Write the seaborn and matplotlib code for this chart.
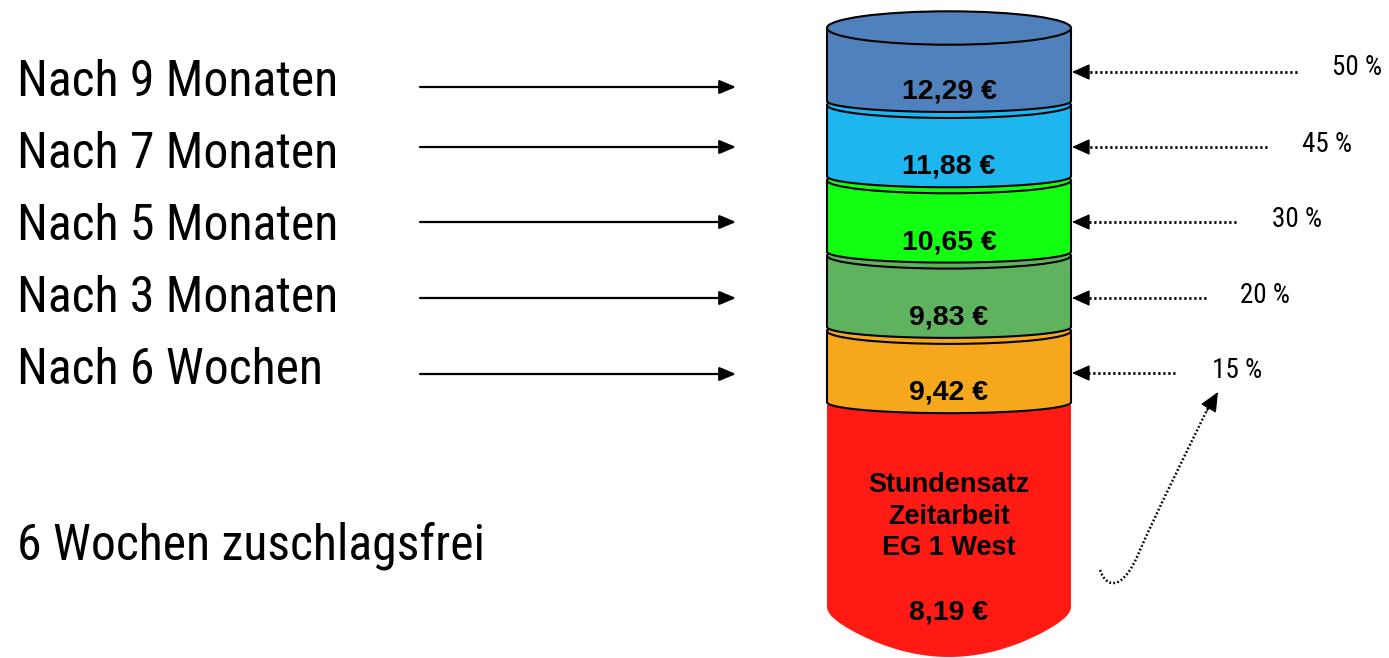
import numpy as np
import matplotlib
matplotlib.use("Agg")
import matplotlib.pyplot as plt
import seaborn as sns
from matplotlib.patches import Ellipse, Polygon, PathPatch
from matplotlib.path import Path
from matplotlib import font_manager as fm

# ---------------- data ----------------
stages = ["Nach 9 Monaten", "Nach 7 Monaten", "Nach 5 Monaten",
          "Nach 3 Monaten", "Nach 6 Wochen"]
rates = [12.29, 11.88, 10.65, 9.83, 9.42]
surcharge_pct = [50, 45, 30, 20, 15]
base_rate = 8.19
base_lines = ["Stundensatz", "Zeitarbeit", "EG 1 West"]
free_label = "6 Wochen zuschlagsfrei"

seg_colors = ["#4F81BD", "#1EB6EF", "#12FF12", "#5FB35F", "#F5A81C"]
base_color = "#FF1A14"


def euro(v):
    return f"{v:.2f}".replace(".", ",") + " €"


sns.set_theme(style="white")
plt.rcParams["font.family"] = ["Liberation Sans", "DejaVu Sans"]

# pick a condensed family if one is installed
names = {f.name for f in fm.fontManager.ttflist}
narrow_candidates = ["Liberation Sans Narrow", "Roboto Condensed",
                     "DejaVu Sans Condensed", "Open Sans Condensed"]
NARROW = [c for c in narrow_candidates if c in names]
HAS_NARROW = len(NARROW) > 0
NARROW = NARROW + ["Liberation Sans", "DejaVu Sans"]
left_fs = 35.8 if HAS_NARROW else 31.5
pct_fs = 19.5 if HAS_NARROW else 16

W, H = 1389, 658
fig = plt.figure(figsize=(W / 100, H / 100), dpi=100)
ax = fig.add_axes([0, 0, 1, 1])
ax.set_xlim(0, W)
ax.set_ylim(H, 0)
ax.axis("off")

# ---------------- cylinder (own axes, x in bar units, y in pixels) ----------------
cx0, cx1 = 827, 1071
pad = 12
cax = fig.add_axes([(cx0 - pad) / W, 0, (cx1 - cx0 + 2 * pad) / W, 1])
half = 0.5 + pad / (cx1 - cx0)

n = len(rates)
junction = [101 + 75.3 * i for i in range(n)]
tops = [28] + [j + 4 for j in junction[:-1]]
bots = junction
base_top = junction[-1] + 4
base_bot = 607
base_depth = 50
arc_depth = 11
EDGE = 1.5

# base (red) segment
sns.barplot(x=["Zylinder"], y=[base_bot - base_top + 1], bottom=base_top - 1,
            color=base_color, saturation=1, width=1.0, linewidth=0,
            errorbar=None, ax=cax, zorder=2)
u = np.linspace(-1, 1, 400)
yb = base_bot + base_depth * np.sqrt(1 - u ** 2) * (1 - 0.35 * u ** 2)
pts = np.column_stack([0.5 * u, yb])
pts = np.vstack([[[-0.5, base_bot - 2]], pts, [[0.5, base_bot - 2]]])
cax.add_patch(Polygon(pts, closed=True, fc=base_color, ec="none", zorder=2.1, clip_on=False))

t = np.linspace(0, np.pi, 200)
for i in range(n - 1, -1, -1):
    k = n - i
    z = 2 + k
    col = seg_colors[i]
    sns.barplot(x=["Zylinder"], y=[bots[i] - tops[i]], bottom=tops[i],
                color=col, saturation=1, width=1.0, linewidth=0,
                errorbar=None, ax=cax, zorder=z)
    xs = 0.5 * np.cos(t)
    ys = bots[i] + arc_depth * np.sin(t)
    hp = np.column_stack([xs, ys])
    hp = np.vstack([hp, [[-0.5, bots[i] - 1], [0.5, bots[i] - 1]]])
    cax.add_patch(Polygon(hp, closed=True, fc=col, ec="none", zorder=z + 0.1, clip_on=False))
    cax.plot(xs, ys, color="black", lw=EDGE, zorder=z + 0.2, clip_on=False,
             solid_capstyle="round")
    for sx in (-0.5, 0.5):
        cax.plot([sx, sx], [tops[i], bots[i]], color="black", lw=EDGE,
                 zorder=z + 0.2, clip_on=False)
    bt = 16.7 if i == 0 else 13
    cax.add_patch(Ellipse((0, tops[i]), 1.0, 2 * bt, fc=col, ec="black",
                          lw=EDGE, zorder=z + 0.3, clip_on=False))
    cax.text(0, bots[i] - 2.5, euro(rates[i]), ha="center", va="baseline",
             fontsize=20.5, fontweight="bold", color="black", zorder=30)

for line, bl in zip(base_lines, [492, 523.5, 555]):
    cax.text(0, bl, line, ha="center", va="baseline", fontsize=19.5,
             fontweight="bold", color="black", zorder=30)
cax.text(0, 619, euro(base_rate), ha="center", va="baseline", fontsize=20.5,
         fontweight="bold", color="black", zorder=30)

cax.set_xlim(-half, half)
cax.set_ylim(H, 0)
cax.axis("off")

# ---------------- left labels & solid arrows ----------------
label_base = [96, 168, 240, 312, 384]
arrow_y = [87, 147, 222, 298, 374]
for s, bl, ay in zip(stages, label_base, arrow_y):
    ax.text(17, bl, s, ha="left", va="baseline", fontsize=left_fs, family=NARROW,
            color="black")
    ax.annotate("", xy=(736, ay), xytext=(420, ay),
                arrowprops=dict(arrowstyle="-|>,head_length=1.0,head_width=0.42",
                                mutation_scale=10, lw=1.6, color="black",
                                shrinkA=0, shrinkB=0))
ax.text(17, 560, free_label, ha="left", va="baseline", fontsize=left_fs,
        family=NARROW, color="black")

# ---------------- dotted arrows & percent labels ----------------
dot_y = [72, 147, 222, 298, 373]
dot_start = [1297, 1267, 1236, 1206, 1175]
pct_x = [1332, 1302, 1272, 1240, 1212]
pct_base = [75, 152, 227, 303, 378]
for pc, y, xs0, px, pb in zip(surcharge_pct, dot_y, dot_start, pct_x, pct_base):
    ax.plot([xs0, 1084], [y, y], color="black", lw=2.0, ls=(0, (0.8, 1.0)),
            solid_capstyle="butt", dash_capstyle="butt")
    ax.annotate("", xy=(1072, y), xytext=(1088, y),
                arrowprops=dict(arrowstyle="-|>,head_length=1.0,head_width=0.45",
                                mutation_scale=11, lw=1.0, color="black",
                                shrinkA=0, shrinkB=0))
    ax.text(px, pb, f"{pc} %", ha="left", va="baseline", fontsize=pct_fs,
            family=NARROW, color="black")

# ---------------- curved dotted arrow ----------------
verts = [(1100, 570), (1107, 590), (1124, 590), (1140, 550),
         (1160, 505), (1190, 445), (1208, 408)]
codes = [Path.MOVETO, Path.CURVE4, Path.CURVE4, Path.CURVE4,
         Path.CURVE4, Path.CURVE4, Path.CURVE4]
ax.add_patch(PathPatch(Path(verts, codes), fc="none", ec="black", lw=1.8,
                       ls=(0, (0.7, 0.9))))
ax.annotate("", xy=(1218, 392), xytext=(1207, 411),
            arrowprops=dict(arrowstyle="-|>,head_length=1.0,head_width=0.45",
                            mutation_scale=12, lw=1.0, color="black",
                            shrinkA=0, shrinkB=0))

fig.savefig("out.png", dpi=100, facecolor="white")
